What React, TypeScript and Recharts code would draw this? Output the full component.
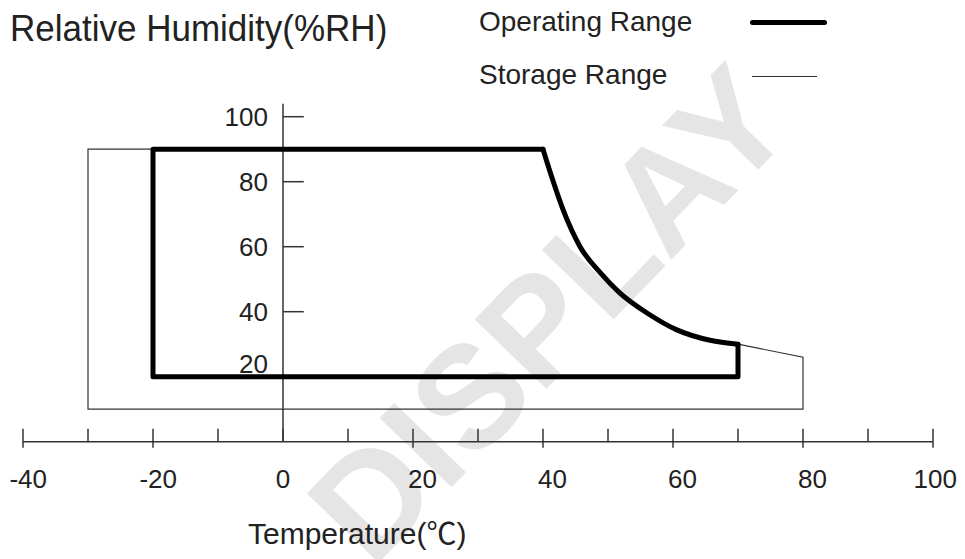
import { ComposedChart, Line, XAxis, YAxis, ReferenceLine } from 'recharts'

// temperature (°C) / relative humidity (%RH)
const tempTicks = [-40, -30, -20, -10, 0, 10, 20, 30, 40, 50, 60, 70, 80, 90, 100]
const rhTicks = [20, 40, 60, 80, 100]

const operatingFrame = [
  { t: 40, rh: 90 },
  { t: -20, rh: 90 },
  { t: -20, rh: 20 },
  { t: 70, rh: 20 },
  { t: 70, rh: 30 },
]

const operatingCurve = [
  { t: 40, rh: 90 },
  { t: 41.5, rh: 80.5 },
  { t: 43.1, rh: 71.3 },
  { t: 45.7, rh: 60 },
  { t: 48.8, rh: 52 },
  { t: 51.8, rh: 45.8 },
  { t: 56, rh: 39.6 },
  { t: 60.6, rh: 34.4 },
  { t: 65.7, rh: 31.2 },
  { t: 70, rh: 30 },
]

const storageRange = [
  { t: 70, rh: 30 },
  { t: 80, rh: 26 },
  { t: 80, rh: 10 },
  { t: -30, rh: 10 },
  { t: -30, rh: 90 },
  { t: -20, rh: 90 },
]

const FONT = '"Liberation Sans", Arial, "Noto Sans CJK SC", sans-serif'
const INK = '#222'
const THIN = '#333'

function TempTick({ x, y, payload }: { x?: number; y?: number; payload?: { value: number } }) {
  if (x == null || y == null || !payload) return null
  const v = payload.value
  const major = v % 20 === 0
  return (
    <g>
      <line x1={x} x2={x} y1={y - 13} y2={y + (major && v !== 0 ? 6 : 0)} stroke={THIN} strokeWidth={1.5} />
      {major && (
        // labels in the original hang a bit right of their tick, except 0
        <text
          x={v === 0 ? x : x + 24}
          y={y + 46}
          textAnchor={v === 0 ? 'middle' : 'end'}
          fontSize={26}
          fontFamily={FONT}
          fill={INK}
        >
          {v}
        </text>
      )}
    </g>
  )
}

function RhLabel({ viewBox, value }: { viewBox?: { x: number; y: number }; value: number }) {
  if (!viewBox) return null
  // the "20" label sits above the thick bottom edge in the original
  const dy = value === 20 ? -13 : 0
  return (
    <text
      x={viewBox.x - 15}
      y={viewBox.y + dy}
      dy="0.36em"
      textAnchor="end"
      fontSize={26}
      fontFamily={FONT}
      fill={INK}
    >
      {value}
    </text>
  )
}

export default function App() {
  return (
    <div
      style={{
        position: 'absolute',
        left: 0,
        top: 0,
        width: 965,
        height: 559,
        background: '#fff',
        overflow: 'hidden',
        fontFamily: FONT,
        color: INK,
      }}
    >
      {/* watermark */}
      <div
        style={{
          position: 'absolute',
          left: 550,
          top: 314,
          transform: 'translate(-50%, -50%) rotate(-46deg)',
          fontSize: 145,
          fontWeight: 'bold',
          color: '#e5e5e5',
          whiteSpace: 'nowrap',
          lineHeight: 1,
        }}
      >
        DISPLAY
      </div>

      <div
        style={{
          position: 'absolute',
          left: 10,
          top: 11,
          fontSize: 35,
          lineHeight: '35px',
          whiteSpace: 'nowrap',
          transform: 'scaleY(1.08)',
          transformOrigin: 'left bottom',
        }}
      >
        Relative Humidity(%RH)
      </div>

      {/* legend */}
      <div style={{ position: 'absolute', left: 479, top: 8, fontSize: 28, lineHeight: '28px', whiteSpace: 'nowrap' }}>
        Operating Range
      </div>
      <div style={{ position: 'absolute', left: 750, top: 20, width: 77, height: 5, borderRadius: 3, background: '#000' }} />
      <div style={{ position: 'absolute', left: 479, top: 61, fontSize: 28, lineHeight: '28px', whiteSpace: 'nowrap' }}>
        Storage Range
      </div>
      <div style={{ position: 'absolute', left: 752, top: 76, width: 65, height: 1, background: THIN }} />

      <div style={{ position: 'absolute', left: 248, top: 519, fontSize: 30, lineHeight: '30px', whiteSpace: 'nowrap' }}>
        Temperature(℃)
      </div>

      <div style={{ position: 'absolute', left: 0, top: 0 }}>
        <ComposedChart width={965} height={559} margin={{ top: 116.7, right: 32, bottom: 57.3, left: 23 }}>
          <XAxis
            dataKey="t"
            type="number"
            domain={[-40, 100]}
            ticks={tempTicks}
            allowDataOverflow
            height={60}
            tickSize={0}
            tickMargin={0}
            tickLine={false}
            axisLine={{ stroke: THIN, strokeWidth: 1.5 }}
            tick={<TempTick />}
            interval={0}
          />
          <YAxis dataKey="rh" type="number" domain={[0, 100]} hide width={0} />

          {/* y axis drawn at 0 °C */}
          <ReferenceLine
            segment={[
              { x: 0, y: 0 },
              { x: 0, y: 104 },
            ]}
            stroke={THIN}
            strokeWidth={1.5}
            ifOverflow="visible"
          />
          {rhTicks.map((v) => (
            <ReferenceLine
              key={v}
              segment={[
                { x: 0, y: v },
                { x: 3.2, y: v },
              ]}
              stroke={THIN}
              strokeWidth={1.5}
              ifOverflow="visible"
              label={<RhLabel value={v} />}
            />
          ))}

          <Line
            data={storageRange}
            dataKey="rh"
            name="Storage Range"
            type="linear"
            stroke={THIN}
            strokeWidth={1.2}
            dot={false}
            activeDot={false}
            isAnimationActive={false}
          />
          <Line
            data={operatingFrame}
            dataKey="rh"
            name="Operating Range"
            type="linear"
            stroke="#000"
            strokeWidth={5}
            strokeLinejoin="round"
            strokeLinecap="round"
            dot={false}
            activeDot={false}
            isAnimationActive={false}
          />
          <Line
            data={operatingCurve}
            dataKey="rh"
            name="Operating Range curve"
            type="monotone"
            stroke="#000"
            strokeWidth={5}
            strokeLinejoin="round"
            strokeLinecap="round"
            dot={false}
            activeDot={false}
            legendType="none"
            isAnimationActive={false}
          />
        </ComposedChart>
      </div>
    </div>
  )
}
